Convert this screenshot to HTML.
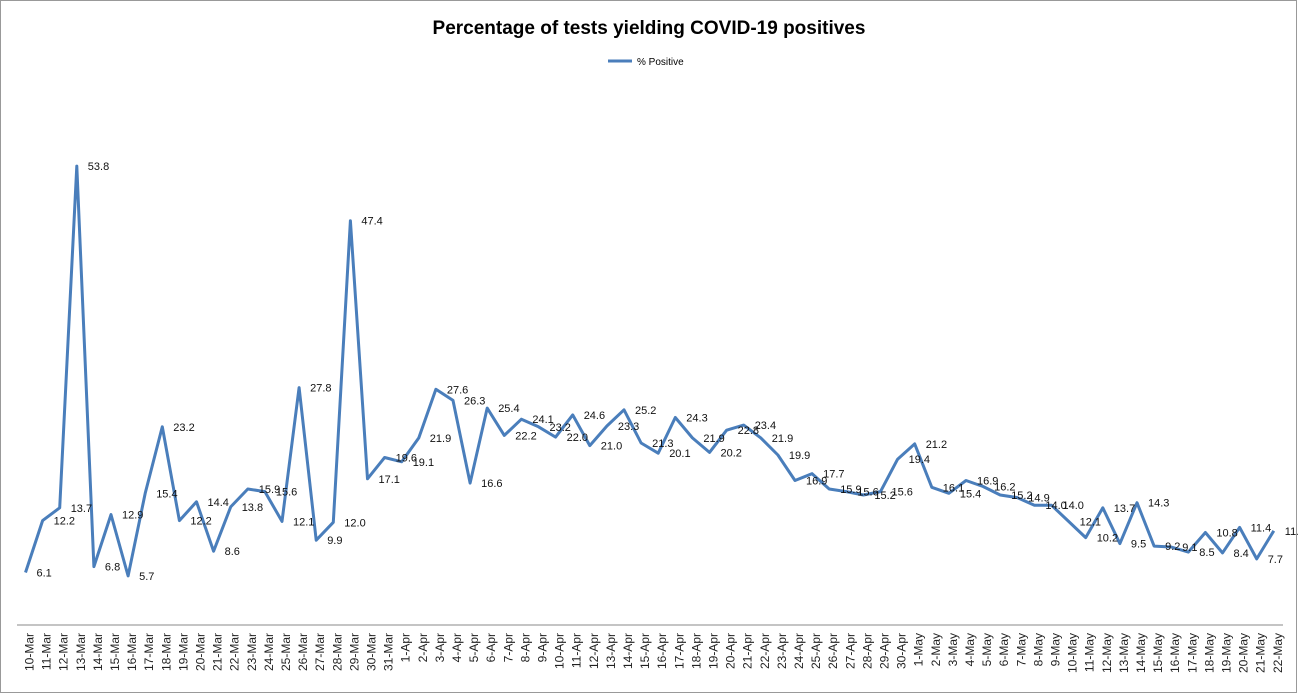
<!DOCTYPE html>
<html><head><meta charset="utf-8"><style>
html,body{margin:0;padding:0;background:#fff}
svg{display:block;font-family:"Liberation Sans",Arial,sans-serif}
</style></head><body>
<svg id="chart" width="1298" height="694" viewBox="0 0 1298 694">
<rect x="0.5" y="0.5" width="1296" height="692" fill="#fff" stroke="#999"/>
<text x="649" y="34" text-anchor="middle" font-size="19" font-weight="bold">Percentage of tests yielding COVID-19 positives</text>
<g>
<line x1="608" y1="61" x2="632" y2="61" stroke="#4a7ebb" stroke-width="3"/>
<text x="637" y="65" font-size="10">% Positive</text>
</g>
<line x1="17" y1="625" x2="1283" y2="625" stroke="#888" stroke-width="1"/>
<g id="ticks"></g>
<g id="series"></g>
<g id="labels"></g>
</svg>
<script>
const categories = (function(){const a=[];for(let d=10;d<=31;d++)a.push(d+'-Mar');for(let d=1;d<=30;d++)a.push(d+'-Apr');for(let d=1;d<=22;d++)a.push(d+'-May');return a;})();
const values = [6.1,12.2,13.7,53.8,6.8,12.9,5.7,15.4,23.2,12.2,14.4,8.6,13.8,15.9,15.6,12.1,27.8,9.9,12.0,47.4,17.1,19.6,
19.1,21.9,27.6,26.3,16.6,25.4,22.2,24.1,23.2,22.0,24.6,21.0,23.3,25.2,21.3,20.1,24.3,21.9,20.2,22.8,23.4,21.9,19.9,16.9,17.7,15.9,15.6,15.2,15.6,19.4,
21.2,16.1,15.4,16.9,16.2,15.2,14.9,14.0,14.0,12.1,10.2,13.7,9.5,14.3,9.2,9.1,8.5,10.8,8.4,11.4,7.7,11.0];
const NS='http://www.w3.org/2000/svg';
function xPos(i){return 25.5+i*17.1;}
function yPos(v){return 624.5-v*8.52;}
const ticks=document.getElementById('ticks');
categories.forEach((c,i)=>{
  const t=document.createElementNS(NS,'text');
  const x=xPos(i)+8;
  t.setAttribute('x',0);t.setAttribute('y',0);
  t.setAttribute('transform','translate('+x+',633) rotate(-90)');
  t.setAttribute('text-anchor','end');
  t.setAttribute('font-size','12');
  t.setAttribute('fill','#222');
  t.textContent=c;
  
  
  ticks.appendChild(t);
});
const pts=values.map((v,i)=>xPos(i).toFixed(1)+','+yPos(v).toFixed(1)).join(' ');
const pl=document.createElementNS(NS,'polyline');
pl.setAttribute('points',pts);
pl.setAttribute('fill','none');
pl.setAttribute('stroke','#4a7ebb');
pl.setAttribute('stroke-width','3');
pl.setAttribute('stroke-linejoin','round');


document.getElementById('series').appendChild(pl);
const lg=document.getElementById('labels');
values.forEach((v,i)=>{
  const t=document.createElementNS(NS,'text');
  t.setAttribute('x',xPos(i)+11);
  t.setAttribute('y',yPos(v)+4);
  t.setAttribute('font-size','11');
  t.setAttribute('fill','#111');
  t.textContent=v.toFixed(1);
  
  
  lg.appendChild(t);
});
</script>
</body></html>
